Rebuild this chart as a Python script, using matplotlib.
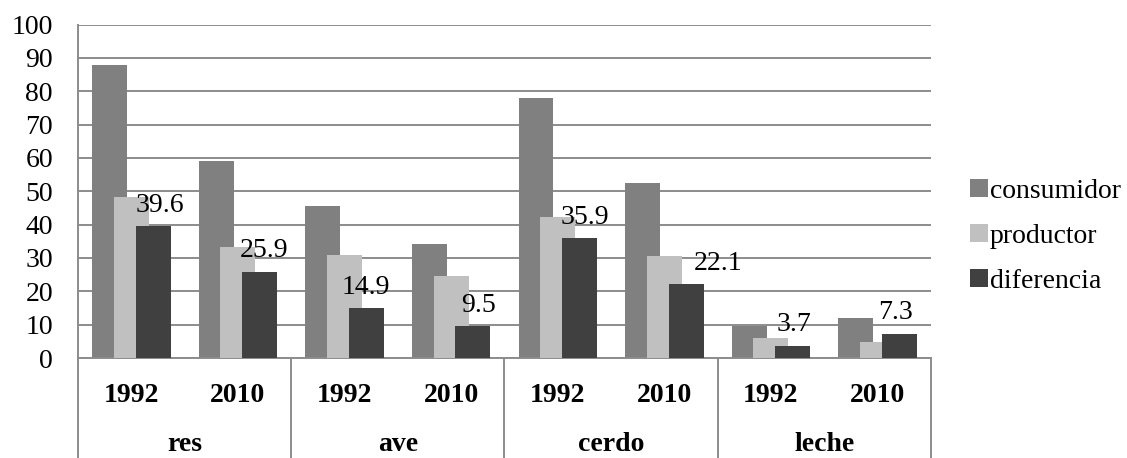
import matplotlib.pyplot as plt
import matplotlib.transforms as mtransforms
import numpy as np

plt.rcParams['font.family'] = ['Liberation Serif', 'DejaVu Serif']

# data
groups = ["res", "ave", "cerdo", "leche"]
years = ["1992", "2010"]
consumidor = [88.0, 59.1, 45.7, 34.1, 78.0, 52.6, 9.6, 12.1]
productor = [48.4, 33.2, 30.9, 24.6, 42.2, 30.6, 5.9, 4.8]
diferencia = [39.6, 25.9, 14.9, 9.5, 35.9, 22.1, 3.7, 7.3]

# label nudges in points (x)
label_dx = [5, 3, 0, 4, 4, 23, 1, -3]

colors = {"consumidor": "#808080", "productor": "#c0c0c0", "diferencia": "#404040"}
grid_c = "#8c8c8c"

fig = plt.figure(figsize=(11.27, 4.58), dpi=100)
ax = fig.add_axes([0.0692, 0.2183, 0.826 - 0.0692, 0.9465 - 0.2183])

x = np.arange(len(consumidor))
w = 0.328
off = 0.204
ax.bar(x - off, consumidor, w, color=colors["consumidor"], label="consumidor", zorder=2)
ax.bar(x, productor, w, color=colors["productor"], label="productor", zorder=3)
ax.bar(x + off, diferencia, w, color=colors["diferencia"], label="diferencia", zorder=4)

for i, v in enumerate(diferencia):
    ax.annotate(f"{v}", (x[i] + off, v), xytext=(label_dx[i], 15), textcoords="offset points",
                ha="center", va="center", fontsize=20, zorder=5)

ax.set_xlim(-0.5, len(x) - 0.5)
ax.set_ylim(0, 100)
ax.set_yticks(np.arange(0, 101, 10))
ax.tick_params(axis="y", length=0, pad=18, labelsize=20)
ax.yaxis.grid(True, color=grid_c, lw=1.4, zorder=0)
ax.set_axisbelow(True)

ax.set_xticks(x)
ax.set_xticklabels([years[i % 2] for i in x], fontweight="bold", fontsize=20)
ax.tick_params(axis="x", length=0, pad=18)

for s in ["top", "right"]:
    ax.spines[s].set_visible(False)
for s in ["left", "bottom"]:
    ax.spines[s].set_color(grid_c)
    ax.spines[s].set_linewidth(1.4)

# group labels and separators below the axis
trans = mtransforms.blended_transform_factory(ax.transData, ax.transAxes)
for g, name in enumerate(groups):
    ax.text(2 * g + 0.5, -0.279, name, transform=trans, ha="center", va="baseline",
            fontsize=20, fontweight="bold")
for b in np.arange(-0.5, len(x), 2):
    ax.plot([b, b], [0, -0.32], transform=trans, color=grid_c, lw=1.4, clip_on=False)

fig.legend(loc="center left", bbox_to_anchor=(0.848, 0.484), frameon=False, fontsize=20,
           handlelength=0.65, handleheight=0.65, handletextpad=0.08, borderpad=0,
           labelspacing=0.72)

fig.savefig("out.png", dpi=100)
